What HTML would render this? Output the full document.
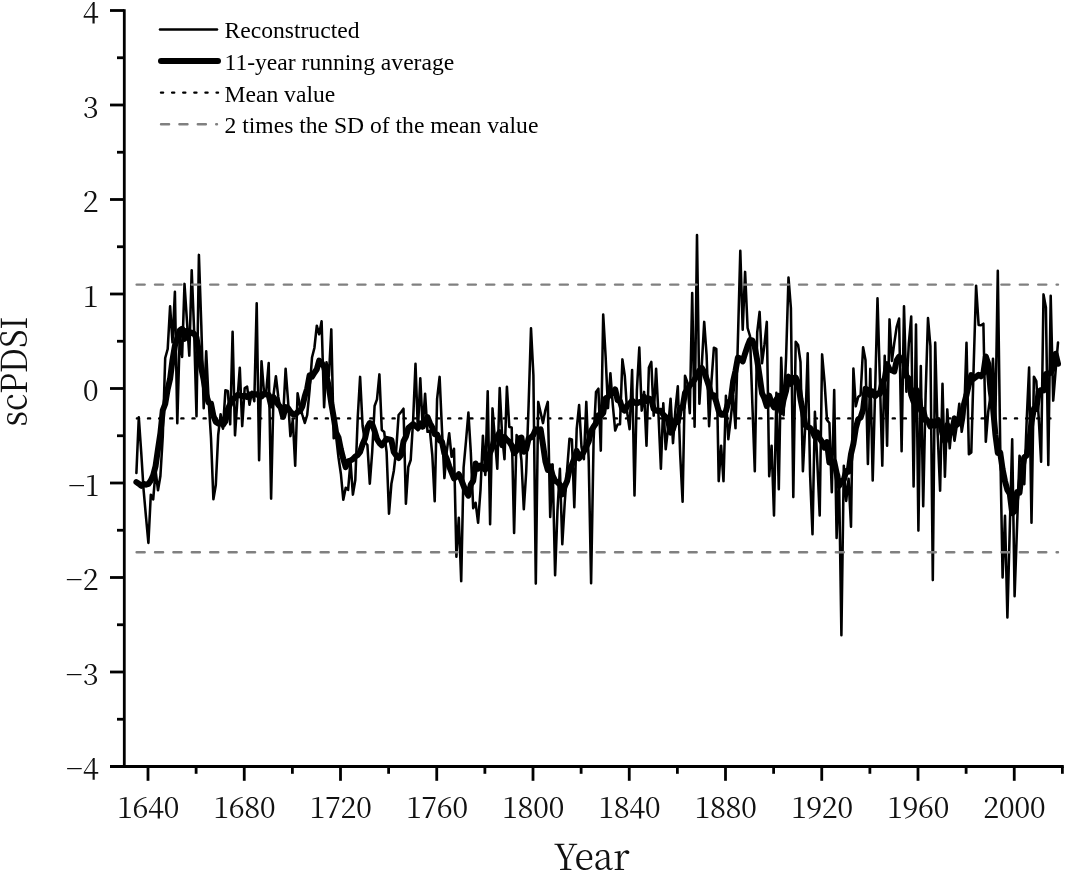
<!DOCTYPE html>
<html><head><meta charset="utf-8"><title>scPDSI reconstruction</title>
<style>
html,body{margin:0;padding:0;background:#fff;}
body{width:1065px;height:870px;overflow:hidden;}
svg{display:block;}
.tk{font-family:"Noto Serif CJK SC","Liberation Serif",serif;font-size:29px;fill:#111;}
.lg{font-family:"Liberation Serif",serif;font-size:23.6px;fill:#000;}
.ax{font-family:"Noto Serif CJK SC","Liberation Serif",serif;font-size:36.4px;fill:#111;}
</style></head><body>
<svg width="1065" height="870" viewBox="0 0 1065 870">
<rect width="1065" height="870" fill="#fff"/>
<polyline fill="none" stroke="#000" stroke-width="2.55" stroke-linejoin="round" stroke-linecap="round" points="136.4,473.0 138.8,417.3 141.2,452.0 143.6,490.0 146.0,517.0 148.4,543.0 150.8,494.7 153.2,499.3 155.6,470.7 158.0,490.3 160.4,476.0 162.8,436.0 165.2,358.0 167.7,349.0 170.1,306.3 172.5,342.3 174.9,291.7 177.3,423.3 179.7,336.7 182.1,357.0 184.5,283.9 186.9,320.0 189.3,355.6 191.7,270.3 194.1,330.0 196.5,416.3 198.9,254.9 201.3,325.0 203.7,408.3 206.2,351.3 208.6,400.0 211.0,438.0 213.4,499.3 215.8,485.0 218.2,435.0 220.6,414.3 223.0,428.7 225.4,390.3 227.8,391.0 230.2,424.3 232.6,331.7 235.0,435.3 237.4,400.0 239.8,367.7 242.2,426.1 244.7,388.0 247.1,386.7 249.5,404.8 251.9,391.7 254.3,401.3 256.7,303.2 259.1,460.3 261.5,361.2 263.9,391.0 266.3,391.0 268.7,363.0 271.1,498.6 273.5,395.0 275.9,376.2 278.3,397.0 280.7,410.0 283.1,417.3 285.6,368.7 288.0,400.0 290.4,436.1 292.8,419.7 295.2,465.8 297.6,393.2 300.0,406.0 302.4,415.0 304.8,423.0 307.2,415.0 309.6,390.0 312.0,357.5 314.4,348.0 316.8,325.7 319.2,334.3 321.6,321.3 324.1,407.3 326.5,362.2 328.9,376.3 331.3,329.4 333.7,438.3 336.1,436.3 338.5,457.5 340.9,474.0 343.3,499.8 345.7,487.7 348.1,489.8 350.5,461.7 352.9,494.6 355.3,480.0 357.7,418.0 360.1,376.9 362.6,426.0 365.0,442.0 367.4,445.0 369.8,483.7 372.2,452.0 374.6,406.0 377.0,399.4 379.4,374.4 381.8,430.0 384.2,432.0 386.6,452.0 389.0,513.7 391.4,483.8 393.8,471.0 396.2,450.0 398.6,415.0 401.1,412.0 403.5,408.7 405.9,503.7 408.3,467.0 410.7,460.0 413.1,421.0 415.5,363.7 417.9,430.3 420.3,378.2 422.7,428.1 425.1,393.7 427.5,431.8 429.9,430.7 432.3,455.0 434.7,501.3 437.1,398.8 439.6,376.9 442.0,430.0 444.4,478.1 446.8,451.0 449.2,433.2 451.6,456.8 454.0,448.7 456.4,556.7 458.8,517.7 461.2,581.1 463.6,467.5 466.0,441.0 468.4,412.6 470.8,452.0 473.2,508.3 475.6,502.7 478.1,522.8 480.5,490.0 482.9,435.7 485.3,474.9 487.7,391.2 490.1,524.3 492.5,408.4 494.9,439.0 497.3,468.7 499.7,388.0 502.1,435.0 504.5,459.3 506.9,386.7 509.3,427.0 511.7,427.5 514.1,533.0 516.6,435.1 519.0,440.0 521.4,460.0 523.8,509.3 526.2,472.0 528.6,405.0 531.0,328.2 533.4,375.0 535.8,583.6 538.2,401.9 540.6,412.5 543.0,423.1 545.4,410.0 547.8,401.9 550.2,517.0 552.6,464.4 555.1,575.3 557.5,510.0 559.9,468.7 562.3,544.3 564.7,503.0 567.1,470.0 569.5,438.7 571.9,439.4 574.3,507.3 576.7,429.0 579.1,405.1 581.5,447.0 583.9,459.3 586.3,401.9 588.7,460.0 591.1,583.3 593.6,440.0 596.0,392.0 598.4,388.7 600.8,450.6 603.2,314.5 605.6,356.0 608.0,408.1 610.4,373.2 612.8,405.0 615.2,430.6 617.6,424.4 620.0,424.3 622.4,359.4 624.8,376.0 627.2,412.5 629.6,429.3 632.1,370.1 634.5,495.5 636.9,390.0 639.3,347.6 641.7,410.6 644.1,391.9 646.5,445.8 648.9,367.5 651.3,361.9 653.7,415.6 656.1,368.7 658.5,415.0 660.9,468.7 663.3,403.2 665.7,449.3 668.1,427.5 670.6,398.7 673.0,443.1 675.4,410.0 677.8,386.3 680.2,455.0 682.6,501.7 685.0,375.7 687.4,382.5 689.8,413.1 692.2,293.1 694.6,426.8 697.0,235.1 699.4,403.7 701.8,365.0 704.2,321.9 706.6,355.0 709.1,426.3 711.5,381.0 713.9,347.7 716.3,348.8 718.7,481.1 721.1,445.7 723.5,481.1 725.9,395.7 728.3,439.3 730.7,419.0 733.1,395.7 735.5,428.1 737.9,340.0 740.3,250.7 742.7,329.8 745.1,271.9 747.6,328.0 750.0,336.0 752.4,405.0 754.8,471.3 757.2,332.5 759.6,311.9 762.0,363.3 764.4,345.0 766.8,321.9 769.2,476.3 771.6,445.7 774.0,515.5 776.4,392.7 778.8,489.3 781.2,357.7 783.6,415.3 786.1,357.0 788.5,277.6 790.9,308.0 793.3,497.1 795.7,341.7 798.1,345.0 800.5,362.0 802.9,471.3 805.3,425.0 807.7,353.2 810.1,475.0 812.5,534.3 814.9,411.7 817.3,462.0 819.7,515.5 822.1,354.4 824.6,382.5 827.0,420.0 829.4,423.0 831.8,492.3 834.2,390.1 836.6,538.0 839.0,474.7 841.4,635.3 843.8,465.7 846.2,500.9 848.6,478.7 851.0,526.8 853.4,368.5 855.8,406.3 858.2,397.0 860.6,395.0 863.1,347.3 865.5,360.0 867.9,464.0 870.3,368.9 872.7,480.5 875.1,392.0 877.5,298.2 879.9,380.0 882.3,465.6 884.7,355.7 887.1,445.7 889.5,319.4 891.9,360.9 894.3,342.8 896.7,326.8 899.1,318.5 901.6,451.3 904.0,306.3 906.4,391.8 908.8,343.7 911.2,316.6 913.6,486.4 916.0,324.6 918.4,530.6 920.8,366.1 923.2,506.3 925.6,395.0 928.0,318.0 930.4,346.0 932.8,580.1 935.2,342.6 937.6,432.0 940.1,490.6 942.5,383.7 944.9,476.8 947.3,409.4 949.7,448.3 952.1,423.2 954.5,440.8 956.9,425.0 959.3,403.7 961.7,431.8 964.1,417.5 966.5,342.7 968.9,454.3 971.3,452.5 973.7,365.0 976.1,285.7 978.6,324.9 981.0,325.3 983.4,323.7 985.8,441.8 988.2,412.0 990.6,395.0 993.0,358.7 995.4,419.3 997.8,270.7 1000.2,445.0 1002.6,577.5 1005.0,515.7 1007.4,617.4 1009.8,528.0 1012.2,439.2 1014.6,596.3 1017.1,525.0 1019.5,455.7 1021.9,462.0 1024.3,484.3 1026.7,420.0 1029.1,367.6 1031.5,522.8 1033.9,376.7 1036.3,381.0 1038.7,417.5 1041.1,461.7 1043.5,294.4 1045.9,307.4 1048.3,464.9 1050.7,295.7 1053.2,400.6 1055.6,371.0 1058.0,342.6"/>
<polyline fill="none" stroke="#000" stroke-width="6.0" stroke-linejoin="round" stroke-linecap="round" points="136.4,482.1 138.8,483.8 141.2,485.8 143.6,484.0 146.0,484.7 148.4,483.9 150.8,480.6 153.2,475.2 155.6,465.9 158.0,449.1 160.4,433.3 162.8,410.3 165.2,404.0 167.7,389.1 170.1,378.8 172.5,360.0 174.9,345.8 177.3,338.5 179.7,330.5 182.1,328.8 184.5,338.9 186.9,330.8 189.3,333.9 191.7,332.5 194.1,333.9 196.5,337.7 198.9,351.8 201.3,368.2 203.7,379.9 206.2,394.9 208.6,402.5 211.0,403.6 213.4,415.9 215.8,421.9 218.2,423.4 220.6,421.6 223.0,424.9 225.4,421.4 227.8,409.3 230.2,404.0 232.6,399.8 235.0,397.3 237.4,395.1 239.8,395.2 242.2,396.2 244.7,395.8 247.1,396.9 249.5,394.5 251.9,394.3 254.3,394.3 256.7,394.3 259.1,395.6 261.5,396.5 263.9,393.7 266.3,394.3 268.7,395.0 271.1,405.5 273.5,397.1 275.9,400.6 278.3,404.8 280.7,407.4 283.1,416.8 285.6,407.1 288.0,408.1 290.4,411.7 292.8,414.1 295.2,414.6 297.6,412.0 300.0,411.1 302.4,406.4 304.8,396.2 307.2,388.6 309.6,375.3 312.0,376.7 314.4,372.7 316.8,369.2 319.2,360.6 321.6,362.8 324.1,366.9 326.5,376.0 328.9,387.4 331.3,403.4 333.7,417.2 336.1,432.7 338.5,437.5 340.9,449.6 343.3,459.0 345.7,467.1 348.1,461.4 350.5,460.5 352.9,459.1 355.3,456.5 357.7,455.0 360.1,451.9 362.6,444.2 365.0,438.6 367.4,427.5 369.8,423.0 372.2,424.2 374.6,431.1 377.0,439.2 379.4,443.0 381.8,445.3 384.2,442.2 386.6,438.8 389.0,439.4 391.4,440.2 393.8,452.1 396.2,455.4 398.6,458.0 401.1,455.1 403.5,441.4 405.9,436.6 408.3,428.1 410.7,426.1 413.1,424.1 415.5,426.0 417.9,428.0 420.3,423.5 422.7,426.7 425.1,421.1 427.5,417.1 429.9,423.2 432.3,427.5 434.7,434.2 437.1,434.5 439.6,440.4 442.0,441.8 444.4,453.4 446.8,459.0 449.2,466.3 451.6,472.5 454.0,478.4 456.4,476.8 458.8,474.3 461.2,479.6 463.6,485.9 466.0,491.9 468.4,495.7 470.8,484.6 473.2,480.8 475.6,463.5 478.1,468.7 480.5,465.7 482.9,468.1 485.3,469.7 487.7,458.6 490.1,452.5 492.5,446.8 494.9,437.3 497.3,436.6 499.7,432.2 502.1,445.2 504.5,437.0 506.9,439.9 509.3,441.9 511.7,445.5 514.1,453.2 516.6,450.5 519.0,438.5 521.4,437.5 523.8,451.8 526.2,449.4 528.6,438.4 531.0,437.4 533.4,434.7 535.8,429.3 538.2,430.0 540.6,429.3 543.0,444.8 545.4,461.4 547.8,469.9 550.2,466.3 552.6,475.5 555.1,480.8 557.5,482.1 559.9,484.7 562.3,494.4 564.7,486.4 567.1,481.0 569.5,469.3 571.9,464.7 574.3,458.6 576.7,450.9 579.1,458.3 581.5,455.6 583.9,451.4 586.3,446.7 588.7,441.5 591.1,431.1 593.6,426.7 596.0,423.2 598.4,415.2 600.8,415.6 603.2,413.0 605.6,398.4 608.0,397.0 610.4,394.0 612.8,392.9 615.2,389.4 617.6,400.0 620.0,401.2 622.4,409.1 624.8,410.7 627.2,405.4 629.6,403.6 632.1,400.7 634.5,402.6 636.9,403.4 639.3,402.1 641.7,402.4 644.1,396.8 646.5,400.9 648.9,398.5 651.3,399.6 653.7,409.0 656.1,410.5 658.5,411.1 660.9,410.8 663.3,414.7 665.7,416.9 668.1,420.4 670.6,432.6 673.0,429.0 675.4,421.1 677.8,422.1 680.2,407.8 682.6,407.8 685.0,392.9 687.4,389.4 689.8,385.3 692.2,383.0 694.6,379.5 697.0,375.0 699.4,370.5 701.8,368.0 704.2,372.0 706.6,379.0 709.1,386.5 711.5,396.2 713.9,395.3 716.3,402.1 718.7,411.0 721.1,414.7 723.5,414.8 725.9,411.1 728.3,402.3 730.7,400.6 733.1,381.5 735.5,370.8 737.9,357.6 740.3,358.5 742.7,361.4 745.1,353.5 747.6,345.9 750.0,340.0 752.4,340.5 754.8,347.0 757.2,360.3 759.6,376.1 762.0,393.2 764.4,398.3 766.8,406.0 769.2,395.6 771.6,403.1 774.0,407.3 776.4,399.4 778.8,396.0 781.2,412.1 783.6,399.7 786.1,390.6 788.5,376.6 790.9,383.9 793.3,378.0 795.7,377.6 798.1,382.9 800.5,399.1 802.9,411.3 805.3,425.3 807.7,427.0 810.1,428.1 812.5,431.5 814.9,436.8 817.3,432.4 819.7,438.5 822.1,441.9 824.6,447.7 827.0,442.1 829.4,462.6 831.8,462.9 834.2,461.5 836.6,472.8 839.0,486.0 841.4,481.3 843.8,479.8 846.2,471.1 848.6,471.6 851.0,454.1 853.4,443.8 855.8,428.2 858.2,419.4 860.6,417.5 863.1,409.7 865.5,388.8 867.9,389.9 870.3,395.3 872.7,391.5 875.1,396.2 877.5,393.6 879.9,393.8 882.3,382.7 884.7,378.9 887.1,364.1 889.5,369.5 891.9,370.3 894.3,371.4 896.7,360.3 899.1,356.7 901.6,360.4 904.0,360.9 906.4,376.3 908.8,378.4 911.2,394.7 913.6,401.8 916.0,389.5 918.4,393.2 920.8,410.3 923.2,410.1 925.6,420.7 928.0,421.1 930.4,426.5 932.8,421.6 935.2,425.5 937.6,420.2 940.1,422.7 942.5,434.0 944.9,441.2 947.3,425.0 949.7,433.3 952.1,432.0 954.5,418.4 956.9,424.9 959.3,422.7 961.7,418.7 964.1,403.8 966.5,394.9 968.9,384.4 971.3,375.1 973.7,378.7 976.1,376.9 978.6,374.8 981.0,376.3 983.4,373.1 985.8,356.5 988.2,363.8 990.6,390.4 993.0,407.7 995.4,434.3 997.8,452.9 1000.2,452.5 1002.6,469.3 1005.0,481.2 1007.4,490.0 1009.8,493.8 1012.2,513.3 1014.6,511.1 1017.1,491.9 1019.5,492.6 1021.9,470.6 1024.3,457.3 1026.7,455.4 1029.1,443.1 1031.5,422.1 1033.9,408.7 1036.3,409.0 1038.7,391.7 1041.1,390.0 1043.5,390.4 1045.9,373.9 1048.3,373.7 1050.7,372.9 1053.2,367.4 1055.6,353.8 1058.0,363.8"/>
<line x1="136.9" x2="1057" y1="418.4" y2="418.4" stroke="#000" stroke-width="2.4" stroke-linecap="round" stroke-dasharray="2.1,9.015"/>
<line x1="136.6" x2="1058" y1="284.6" y2="284.6" stroke="#808080" stroke-width="2.4" stroke-linecap="round" stroke-dasharray="8.1,10.3"/>
<line x1="136.6" x2="1058" y1="552.3" y2="552.3" stroke="#808080" stroke-width="2.4" stroke-linecap="round" stroke-dasharray="8.1,10.3"/>
<g stroke="#000" stroke-width="2.8" fill="none">
<line x1="124.3" x2="124.3" y1="9.3" y2="767.7"/>
<line x1="110" x2="1063.8" y1="766.5" y2="766.5"/>
<line x1="110" x2="124.3" y1="10.50" y2="10.50"/>
<line x1="117" x2="124.3" y1="57.75" y2="57.75"/>
<line x1="110" x2="124.3" y1="105.00" y2="105.00"/>
<line x1="117" x2="124.3" y1="152.25" y2="152.25"/>
<line x1="110" x2="124.3" y1="199.50" y2="199.50"/>
<line x1="117" x2="124.3" y1="246.75" y2="246.75"/>
<line x1="110" x2="124.3" y1="294.00" y2="294.00"/>
<line x1="117" x2="124.3" y1="341.25" y2="341.25"/>
<line x1="110" x2="124.3" y1="388.50" y2="388.50"/>
<line x1="117" x2="124.3" y1="435.75" y2="435.75"/>
<line x1="110" x2="124.3" y1="483.00" y2="483.00"/>
<line x1="117" x2="124.3" y1="530.25" y2="530.25"/>
<line x1="110" x2="124.3" y1="577.50" y2="577.50"/>
<line x1="117" x2="124.3" y1="624.75" y2="624.75"/>
<line x1="110" x2="124.3" y1="672.00" y2="672.00"/>
<line x1="117" x2="124.3" y1="719.25" y2="719.25"/>
<line x1="148.00" x2="148.00" y1="766.5" y2="780.8"/>
<line x1="196.12" x2="196.12" y1="766.5" y2="773.8"/>
<line x1="244.25" x2="244.25" y1="766.5" y2="780.8"/>
<line x1="292.38" x2="292.38" y1="766.5" y2="773.8"/>
<line x1="340.50" x2="340.50" y1="766.5" y2="780.8"/>
<line x1="388.62" x2="388.62" y1="766.5" y2="773.8"/>
<line x1="436.75" x2="436.75" y1="766.5" y2="780.8"/>
<line x1="484.88" x2="484.88" y1="766.5" y2="773.8"/>
<line x1="533.00" x2="533.00" y1="766.5" y2="780.8"/>
<line x1="581.12" x2="581.12" y1="766.5" y2="773.8"/>
<line x1="629.25" x2="629.25" y1="766.5" y2="780.8"/>
<line x1="677.38" x2="677.38" y1="766.5" y2="773.8"/>
<line x1="725.50" x2="725.50" y1="766.5" y2="780.8"/>
<line x1="773.62" x2="773.62" y1="766.5" y2="773.8"/>
<line x1="821.75" x2="821.75" y1="766.5" y2="780.8"/>
<line x1="869.88" x2="869.88" y1="766.5" y2="773.8"/>
<line x1="918.00" x2="918.00" y1="766.5" y2="780.8"/>
<line x1="966.12" x2="966.12" y1="766.5" y2="773.8"/>
<line x1="1014.25" x2="1014.25" y1="766.5" y2="780.8"/>
<line x1="1062.38" x2="1062.38" y1="766.5" y2="773.8"/>
</g>
<text class="tk" x="98.8" y="23.1" text-anchor="end">4</text>
<text class="tk" x="98.8" y="117.6" text-anchor="end">3</text>
<text class="tk" x="98.8" y="212.1" text-anchor="end">2</text>
<text class="tk" x="98.8" y="306.6" text-anchor="end">1</text>
<text class="tk" x="98.8" y="401.1" text-anchor="end">0</text>
<text class="tk" x="98.8" y="495.6" text-anchor="end">−1</text>
<text class="tk" x="98.8" y="590.1" text-anchor="end">−2</text>
<text class="tk" x="98.8" y="684.6" text-anchor="end">−3</text>
<text class="tk" x="98.8" y="779.1" text-anchor="end">−4</text>
<text class="tk" x="148.0" y="818.2" text-anchor="middle" letter-spacing="-0.5">1640</text>
<text class="tk" x="244.2" y="818.2" text-anchor="middle" letter-spacing="-0.5">1680</text>
<text class="tk" x="340.5" y="818.2" text-anchor="middle" letter-spacing="-0.5">1720</text>
<text class="tk" x="436.8" y="818.2" text-anchor="middle" letter-spacing="-0.5">1760</text>
<text class="tk" x="533.0" y="818.2" text-anchor="middle" letter-spacing="-0.5">1800</text>
<text class="tk" x="629.2" y="818.2" text-anchor="middle" letter-spacing="-0.5">1840</text>
<text class="tk" x="725.5" y="818.2" text-anchor="middle" letter-spacing="-0.5">1880</text>
<text class="tk" x="821.8" y="818.2" text-anchor="middle" letter-spacing="-0.5">1920</text>
<text class="tk" x="918.0" y="818.2" text-anchor="middle" letter-spacing="-0.5">1960</text>
<text class="tk" x="1014.2" y="818.2" text-anchor="middle" letter-spacing="-0.5">2000</text>
<text class="ax" x="553.6" y="869.6" textLength="76" lengthAdjust="spacingAndGlyphs">Year</text>
<text class="ax" transform="translate(27.3,426.5) rotate(-90)" textLength="110" lengthAdjust="spacingAndGlyphs">scPDSI</text>
<line x1="160" x2="217" y1="29.5" y2="29.5" stroke="#000" stroke-width="2.55" stroke-linecap="round"/>
<line x1="161" x2="218" y1="61.1" y2="61.1" stroke="#000" stroke-width="6.0" stroke-linecap="round"/>
<line x1="161" x2="218" y1="92.6" y2="92.6" stroke="#000" stroke-width="2.4" stroke-linecap="round" stroke-dasharray="2.1,9.015"/>
<line x1="161" x2="217" y1="124.2" y2="124.2" stroke="#808080" stroke-width="2.4" stroke-linecap="round" stroke-dasharray="8.1,10.3"/>
<text class="lg" x="224.5" y="38.3">Reconstructed</text>
<text class="lg" x="224.5" y="70.2">11-year running average</text>
<text class="lg" x="224.5" y="101.7">Mean value</text>
<text class="lg" x="224.5" y="133.3">2 times the SD of the mean value</text>
</svg></body></html>
